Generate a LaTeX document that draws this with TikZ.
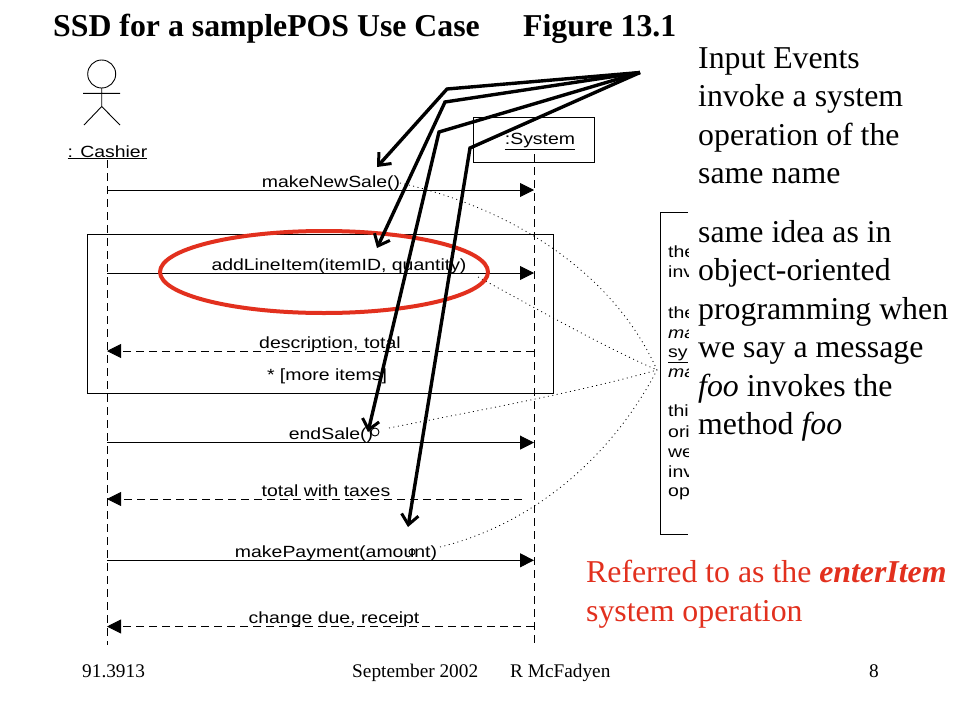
\documentclass[tikz,border=0pt]{standalone}
\usepackage{fontspec}
\setmainfont{Liberation Serif}
\newfontfamily\umlfont[FakeStretch=1.2]{Liberation Sans}
\usetikzlibrary{arrows.meta}
\usetikzlibrary{shapes.geometric}
\definecolor{slidered}{RGB}{226,48,30}
\tikzset{
  slidetext/.style={anchor=north west,inner sep=0,align=left,font=\fontsize{31.8}{38.5}\selectfont},
  umllabel/.style={anchor=base,inner sep=0,font=\umlfont\fontsize{16.2}{18}\selectfont},
  footer/.style={anchor=base west,inner sep=0,font=\fontsize{19.3}{21}\selectfont},
  titletext/.style={anchor=base west,inner sep=0,font=\bfseries\fontsize{31.8}{34}\selectfont},
  umlline/.style={line width=0.9pt},
  lifeline/.style={umlline,dash pattern=on 8pt off 5pt},
  message/.style={umlline,-{Triangle[length=14pt,width=14pt]}},
  noteline/.style={line width=0.8pt,dash pattern=on 1pt off 3.5pt},
  bigarrow/.style={line width=3.4pt,-{Straight Barb[length=10pt,width=17pt,line width=3pt]}}
}
\begin{document}
\begin{tikzpicture}[x=1pt,y=-1pt]
\useasboundingbox[fill=white] (0,0) rectangle (960,720);
% actor
\draw[umlline] (101.7,74) circle[radius=14];
\draw[umlline] (83,93.3) -- (120,93.3) (101.7,88) -- (101.7,106.5) (84,125) -- (101.7,106.5) -- (120,125);
\node[umllabel] (cashier) at (107.5,157) {\underline{: Cashier}};
\node[draw,umlline,minimum width=121pt,minimum height=45pt,inner sep=0] (sysbox) at (533.5,139.5) {};
\node[umllabel] (system) at (540,144) {\underline{:System}};
% lifelines
\coordinate (cashTop) at (107,160);
\coordinate (cashEnd) at (107,645);
\coordinate (sysTop) at (534,154);
\coordinate (sysEnd) at (534,645);
\draw[lifeline] (cashTop) -- (cashEnd);
\draw[lifeline] (sysTop) -- (sysEnd);
\node[draw,umlline,minimum width=466pt,minimum height=159pt,inner sep=0] (loopbox) at (320,313.5) {};
\node[umllabel] (more) at (327,380) {* [more items]};
% messages
\foreach\msg/\ypos/\xlab/\txt in {sale/190/331/{makeNewSale()},line/273/339/{addLineItem(itemID, quantity)},
    end/442.6/331/{endSale()},pay/560.3/336/{makePayment(amount)}}{
  \coordinate (c\msg) at (107,\ypos);
  \coordinate (s\msg) at (534,\ypos);
  \draw[message] (c\msg) -- (s\msg);
  \node[umllabel] (l\msg) at (\xlab,\ypos-3) {\txt};
}
\foreach\msg/\ypos/\xend/\xlab/\txt in {desc/351/534/330/{description, total},tot/499/522/326/{total with taxes},
    chg/626.5/534/334/{change due, receipt}}{
  \coordinate (c\msg) at (107,\ypos);
  \coordinate (s\msg) at (\xend,\ypos);
  \draw[message,dash pattern=on 8pt off 5pt] (s\msg) -- (c\msg);
  \node[umllabel] (l\msg) at (\xlab,\ypos-3) {\txt};
}
% the note, cut off by the text
\coordinate (noteTR) at (688,212);
\coordinate (noteTL) at (660.5,212);
\coordinate (noteBL) at (660.5,534);
\coordinate (noteBR) at (688,534);
\draw[umlline] (noteTR) -- (noteTL) -- (noteBL) -- (noteBR);
\begin{scope}
\clip (660,205) rectangle (688,540);
\foreach\row/\ypos/\txt in {a/257/the,b/277/inv,c/318/the,d/338/\textit{ma},e/357/\underline{sy},f/377/\textit{ma},
    g/416/thi,h/437/ori,i/457/we,j/477/inv,k/496/op}{
  \node[umllabel,anchor=base west] (note\row) at (668,\ypos) {\txt};
}
\end{scope}
\coordinate (hub) at (657,370);
\draw[umlline] (375,432) circle[radius=4];
\draw[umlline] (412,552) circle[radius=3];
\coordinate (dotSale) at (400,183);
\coordinate (dotLine) at (478,277);
\coordinate (dotEnd) at (389,428);
\coordinate (dotPay) at (440,547);
\draw[noteline] (dotSale) .. controls (500,205) and (610,265) .. (hub);
\draw[noteline] (dotLine) .. controls (530,305) and (600,345) .. (hub);
\draw[noteline] (dotEnd) .. controls (470,412) and (580,392) .. (hub);
\draw[noteline] (dotPay) .. controls (530,525) and (610,460) .. (hub);
\node[draw=slidered,line width=4pt,ellipse,minimum width=328pt,minimum height=82pt] (circled) at (324,272) {};
% arrows from the text
\coordinate (from) at (640,72.5);
\draw[bigarrow] (from) -- (447,89) -- (377,167);
\draw[bigarrow] (from) -- (445,102) -- (377,248);
\draw[bigarrow] (from) -- (439,132) -- (368,432);
\draw[bigarrow] (from) -- (470,148) -- (408,527);
% slide text
\node[titletext] (title) at (53,36.5) {SSD for a samplePOS Use Case};
\node[titletext] (figno) at (523,36.5) {Figure 13.1};
\node[slidetext] (events) at (698,47) {Input Events\\invoke a system\\operation of the\\same name};
\node[slidetext] (idea) at (698,220) {same idea as in\\object-oriented\\programming when\\we say a message\\\textit{foo} invokes the\\method \textit{foo}};
\node[slidetext,text=slidered] (refer) at (586,560) {Referred to as the \textbf{\textit{enterItem}}\\system operation};
\node[footer] (course) at (82,677) {91.3913};
\node[footer] (date) at (352,677) {September 2002};
\node[footer] (name) at (510,677) {R McFadyen};
\node[footer] (page) at (869,677) {8};
\end{tikzpicture}
\end{document}
